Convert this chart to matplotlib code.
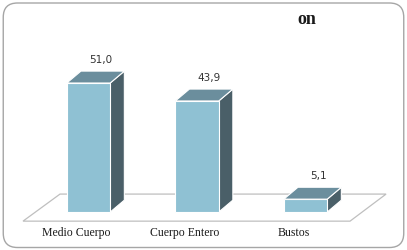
import matplotlib

matplotlib.use("Agg")
import matplotlib.pyplot as plt
from matplotlib.patches import Polygon, FancyBboxPatch

# data
categories = ["Medio Cuerpo", "Cuerpo Entero", "Bustos"]
values = [51.0, 43.9, 5.1]
value_labels = ["51,0", "43,9", "5,1"]

FRONT = "#8fc1d3"
TOP = "#6b8e9d"
SIDE = "#4a5f68"

bar_w = 0.40
depth_x = 0.13
depth_y = 4.7

fig = plt.figure(figsize=(4.07, 2.5), dpi=100)
fig.patch.set_facecolor("white")

ax = fig.add_axes([0, 0, 1, 1])
ax.set_xlim(-0.816, 2.935)
ax.set_ylim(-15.0, 83.8)
ax.axis("off")

# rounded outer border
border = FancyBboxPatch((0.008, 0.01), 0.984, 0.978, boxstyle="round,pad=0,rounding_size=0.035",
                        transform=ax.transAxes, facecolor="none", edgecolor="#a6a6a6",
                        linewidth=1.0, mutation_aspect=407 / 250, zorder=0)
ax.add_patch(border)

# floor
n = len(categories)
floor = Polygon([(-0.604, -3.6), (n - 0.59, -3.6), (n - 0.258, 7.1), (-0.263, 7.1)],
                closed=True, facecolor="white", edgecolor="#bfbfbf", linewidth=0.9, zorder=1)
ax.add_patch(floor)

for i, v in enumerate(values):
    x0, x1 = i - bar_w / 2, i + bar_w / 2
    front = Polygon([(x0, 0), (x1, 0), (x1, v), (x0, v)], closed=True,
                    facecolor=FRONT, edgecolor="white", linewidth=0.8, zorder=3)
    top = Polygon([(x0, v), (x1, v), (x1 + depth_x, v + depth_y), (x0 + depth_x, v + depth_y)],
                  closed=True, facecolor=TOP, edgecolor="white", linewidth=0.8, zorder=3)
    side = Polygon([(x1, 0), (x1 + depth_x, depth_y), (x1 + depth_x, v + depth_y), (x1, v)],
                   closed=True, facecolor=SIDE, edgecolor="white", linewidth=0.8, zorder=3)
    for p in (side, front, top):
        ax.add_patch(p)
    ax.text(i + 0.115, v + depth_y + 4.5, value_labels[i], ha="center", va="center",
            fontsize=7.5, color="#333333", family="DejaVu Sans")
    ax.text(i - 0.11, -8.2, categories[i], ha="center", va="center",
            fontsize=8.5, color="#1a1a1a", family="Liberation Serif")

fig.text(0.755, 0.922, "on", ha="center", va="center", fontsize=13,
         fontweight="bold", family="Liberation Serif", color="#1a1a1a")

fig.savefig("out.png", dpi=100)
